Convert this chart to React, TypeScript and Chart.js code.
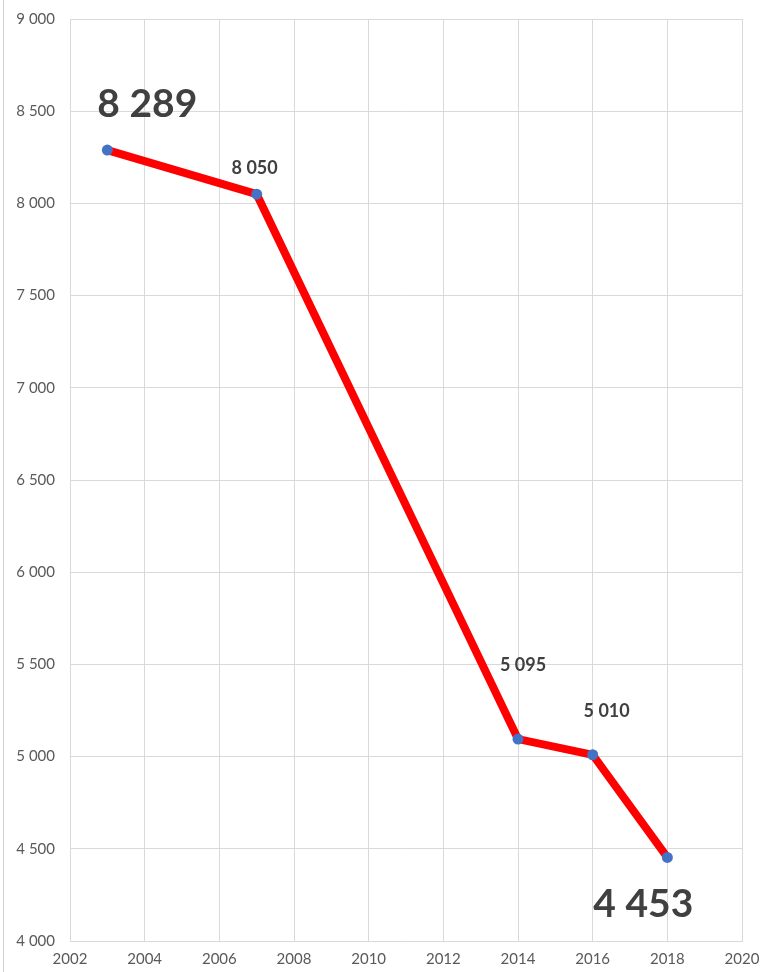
import React, { useEffect, useRef } from "react";
import { Chart, registerables } from "chart.js";

Chart.register(...registerables);

const years = [2003, 2007, 2014, 2016, 2018];
const values = [8289, 8050, 5095, 5010, 4453];
const xTicksRange = { min: 2002, max: 2020, step: 2 };
const yTicksRange = { min: 4000, max: 9000, step: 500 };

// label styling (offsets in px from point, big = large font)
const labelStyle = [
  { dx: 40, dy: -33, big: true },
  { dx: -2, dy: -20, big: false },
  { dx: 5, dy: -68, big: false },
  { dx: 14, dy: -38, big: false },
  { dx: -24, dy: 60, big: true },
];

const fmt = (v: number) => {
  const s = Math.round(v).toString();
  return s.replace(/\B(?=(\d{3})+(?!\d))/g, " ");
};

const FONT = "Lato, 'Open Sans', sans-serif";

const labelPlugin = {
  id: "valueLabels",
  afterDatasetsDraw(chart: any) {
    const ctx = chart.ctx;
    const meta = chart.getDatasetMeta(0);
    ctx.save();
    ctx.fillStyle = "#404040";
    ctx.textAlign = "center";
    ctx.textBaseline = "alphabetic";
    meta.data.forEach((pt: any, i: number) => {
      const st = labelStyle[i];
      ctx.font = st.big ? `bold 39px ${FONT}` : `bold 18px ${FONT}`;
      ctx.fillText(fmt(values[i]), pt.x + st.dx, pt.y + st.dy);
    });
    ctx.restore();
  },
  beforeDraw(chart: any) {
    const ctx = chart.ctx;
    ctx.save();
    ctx.fillStyle = "#ffffff";
    ctx.fillRect(0, 0, chart.width, chart.height);
    ctx.strokeStyle = "#d0d0d0";
    ctx.lineWidth = 1;
    ctx.beginPath();
    ctx.moveTo(3.5, 0);
    ctx.lineTo(3.5, chart.height);
    ctx.stroke();
    ctx.restore();
  },
};

const zeroPad = (s: any) => {
  s.paddingTop = 0;
  s.paddingBottom = 0;
  s.paddingLeft = 0;
  s.paddingRight = 0;
};

export default function App() {
  const ref = useRef<HTMLCanvasElement>(null);
  useEffect(() => {
    if (!ref.current) return;
    const chart = new Chart(ref.current, {
      type: "line",
      data: {
        datasets: [
          {
            data: years.map((y, i) => ({ x: y, y: values[i] })),
            borderColor: "#ff0000",
            borderWidth: 8,
            pointBackgroundColor: "#4472c4",
            pointBorderColor: "#4472c4",
            pointRadius: 5.5,
            pointBorderWidth: 0,
            tension: 0,
          },
        ],
      },
      options: {
        animation: false,
        responsive: false,
        layout: { padding: { left: 0, right: 21, top: 19, bottom: 0 } },
        plugins: { legend: { display: false }, tooltip: { enabled: false } },
        scales: {
          x: {
            type: "linear",
            min: xTicksRange.min,
            max: xTicksRange.max,
            afterFit: (s: any) => {
              s.height = 31;
              zeroPad(s);
            },
            ticks: {
              stepSize: xTicksRange.step,
              callback: (v: any) => String(v),
              color: "#595959",
              font: { family: FONT, size: 15 },
              padding: 9,
              maxRotation: 0,
            },
            grid: { color: "#d9d9d9", lineWidth: 1, drawTicks: false },
            border: { color: "#d9d9d9" },
          },
          y: {
            min: yTicksRange.min,
            max: yTicksRange.max,
            afterFit: (s: any) => {
              s.width = 70;
              zeroPad(s);
            },
            ticks: {
              stepSize: yTicksRange.step,
              callback: (v: any) => fmt(Number(v)),
              color: "#595959",
              font: { family: FONT, size: 15 },
              padding: 15,
            },
            grid: { color: "#d9d9d9", lineWidth: 1, drawTicks: false },
            border: { color: "#d9d9d9" },
          },
        },
      },
      plugins: [labelPlugin],
    } as any);
    return () => chart.destroy();
  }, []);
  return (
    <div style={{ position: "absolute", left: 0, top: 0, width: 763, height: 972 }}>
      <canvas ref={ref} width={763} height={972} style={{ display: "block" }} />
    </div>
  );
}
